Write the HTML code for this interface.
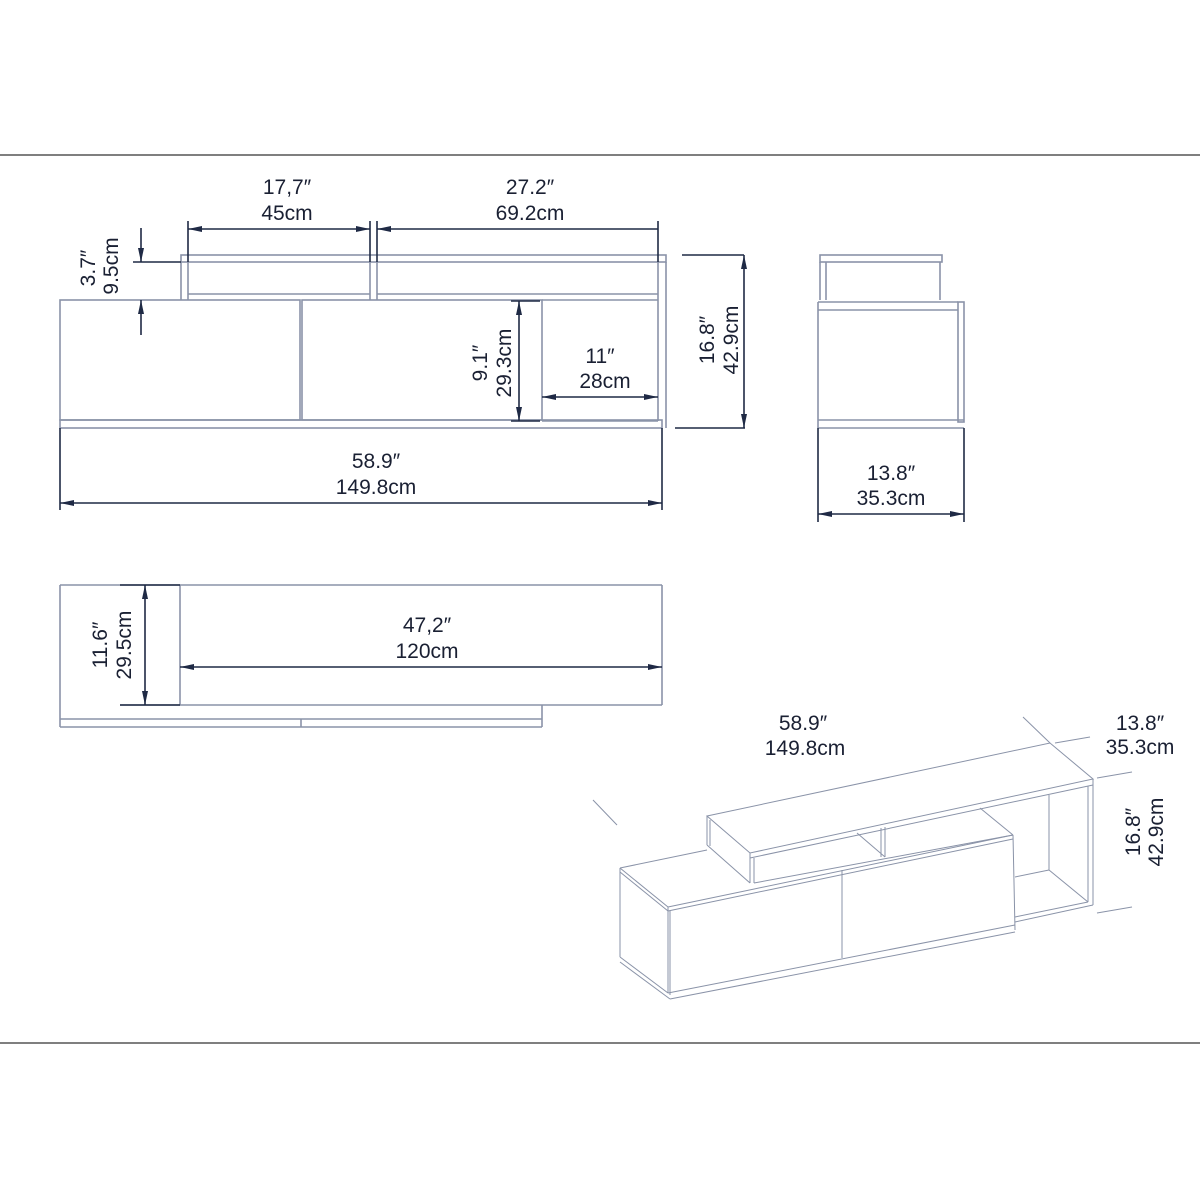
<!DOCTYPE html>
<html><head><meta charset="utf-8"><style>
html,body{margin:0;padding:0;background:#fff;}
svg{display:block;}
text{font-family:"Liberation Sans Narrow","Liberation Sans",sans-serif;font-size:21px;fill:#1a2033;text-anchor:middle;}
.o{stroke:#8a93a8;stroke-width:1.6;fill:none;}
.d{stroke:#1f2a45;stroke-width:1.6;fill:none;}
.a{fill:#1f2a45;stroke:none;}
.t{stroke:#8a93a8;stroke-width:1;fill:none;}
</style></head><body>
<svg width="1200" height="1200" viewBox="0 0 1200 1200" xmlns="http://www.w3.org/2000/svg">
<defs>
<marker id="ar" viewBox="0 0 14 6" refX="14" refY="3" markerWidth="14" markerHeight="6" markerUnits="userSpaceOnUse" orient="auto-start-reverse"><path d="M0,0 L14,3 L0,6 z" class="a"/></marker>
</defs>
<line x1="0" y1="155" x2="1200" y2="155" stroke="#333" stroke-width="1.3"/>
<line x1="0" y1="1043" x2="1200" y2="1043" stroke="#333" stroke-width="1.3"/>

<!-- FRONT VIEW -->
<rect class="o" x="181" y="255" width="485" height="7"/>
<line class="o" x1="181" y1="262" x2="181" y2="300"/>
<line class="o" x1="188" y1="262" x2="188" y2="300"/>
<line class="o" x1="370" y1="262" x2="370" y2="300"/>
<line class="o" x1="377" y1="262" x2="377" y2="300"/>
<line class="o" x1="188" y1="294" x2="370" y2="294"/>
<line class="o" x1="377" y1="294" x2="658" y2="294"/>
<line class="o" x1="658" y1="262" x2="658" y2="421"/>
<line class="o" x1="666" y1="262" x2="666" y2="428"/>
<rect class="o" x="60" y="300" width="240" height="120"/>
<rect class="o" x="302" y="300" width="240" height="120"/>
<line class="o" x1="542" y1="300" x2="658" y2="300"/>
<line class="o" x1="542" y1="421" x2="658" y2="421"/>
<rect class="o" x="60" y="420" width="602" height="8"/>
<line class="d" x1="60" y1="428" x2="60" y2="510"/>
<line class="d" x1="662" y1="428" x2="662" y2="510"/>
<!-- dims -->
<line class="d" x1="188" y1="221" x2="188" y2="262"/>
<line class="d" x1="370" y1="221" x2="370" y2="262"/>
<line class="d" x1="377" y1="221" x2="377" y2="262"/>
<line class="d" x1="658" y1="221" x2="658" y2="262"/>
<line class="d" x1="188" y1="229" x2="370" y2="229" marker-start="url(#ar)" marker-end="url(#ar)"/>
<line class="d" x1="377" y1="229" x2="658" y2="229" marker-start="url(#ar)"/>
<text x="287" y="194">17,7″</text><text x="287" y="220">45cm</text>
<text x="530" y="194">27.2″</text><text x="530" y="220">69.2cm</text>
<line class="d" x1="133" y1="262" x2="181" y2="262"/>
<line class="d" x1="141" y1="228" x2="141" y2="262" marker-end="url(#ar)"/>
<line class="d" x1="141" y1="335" x2="141" y2="300" marker-end="url(#ar)"/>
<text transform="translate(95,268) rotate(-90)">3.7″</text>
<text transform="translate(118,266) rotate(-90)">9.5cm</text>
<line class="d" x1="511" y1="301" x2="540" y2="301"/>
<line class="d" x1="511" y1="421" x2="540" y2="421"/>
<line class="d" x1="519" y1="301" x2="519" y2="421" marker-start="url(#ar)" marker-end="url(#ar)"/>
<text transform="translate(487,363) rotate(-90)">9.1″</text>
<text transform="translate(511,363) rotate(-90)">29.3cm</text>
<line class="d" x1="542" y1="397" x2="658" y2="397" marker-start="url(#ar)" marker-end="url(#ar)"/>
<text x="600" y="363">11″</text><text x="605" y="388">28cm</text>
<line class="d" x1="682" y1="255" x2="744" y2="255"/>
<line class="d" x1="675" y1="428" x2="745" y2="428"/>
<line class="d" x1="744" y1="255" x2="744" y2="428" marker-start="url(#ar)" marker-end="url(#ar)"/>
<text transform="translate(714,340) rotate(-90)">16.8″</text>
<text transform="translate(738,340) rotate(-90)">42.9cm</text>
<line class="d" x1="60" y1="503" x2="662" y2="503" marker-start="url(#ar)" marker-end="url(#ar)"/>
<text x="376" y="468">58.9″</text><text x="376" y="494">149.8cm</text>

<!-- SIDE VIEW -->
<rect class="o" x="820" y="255" width="122" height="7"/>
<line class="o" x1="820" y1="262" x2="820" y2="300"/>
<line class="o" x1="826" y1="262" x2="826" y2="300"/>
<line class="o" x1="940" y1="262" x2="940" y2="300"/>
<line class="o" x1="818" y1="302" x2="958" y2="302"/>
<line class="o" x1="818" y1="310" x2="958" y2="310"/>
<line class="o" x1="818" y1="302" x2="818" y2="428"/>
<rect class="o" x="958" y="302" width="6" height="120"/>
<line class="o" x1="818" y1="420" x2="964" y2="420"/>
<line class="o" x1="818" y1="428" x2="964" y2="428"/>
<line class="d" x1="818" y1="428" x2="818" y2="522"/>
<line class="d" x1="964" y1="428" x2="964" y2="522"/>
<line class="d" x1="818" y1="514" x2="964" y2="514" marker-start="url(#ar)" marker-end="url(#ar)"/>
<text x="891" y="480">13.8″</text><text x="891" y="505">35.3cm</text>

<!-- TOP VIEW -->
<line class="o" x1="60" y1="585" x2="662" y2="585"/>
<line class="o" x1="60" y1="585" x2="60" y2="727"/>
<line class="o" x1="662" y1="585" x2="662" y2="705"/>
<line class="o" x1="180" y1="585" x2="180" y2="705"/>
<line class="o" x1="120" y1="705" x2="662" y2="705"/>
<line class="o" x1="60" y1="719" x2="542" y2="719"/>
<line class="o" x1="60" y1="727" x2="542" y2="727"/>
<line class="o" x1="542" y1="705" x2="542" y2="727"/>
<line class="o" x1="301" y1="719" x2="301" y2="727"/>
<line class="d" x1="120" y1="585" x2="180" y2="585"/>
<line class="d" x1="120" y1="705" x2="180" y2="705"/>
<line class="d" x1="145" y1="585" x2="145" y2="705" marker-start="url(#ar)" marker-end="url(#ar)"/>
<text transform="translate(107,645) rotate(-90)">11.6″</text>
<text transform="translate(131,645) rotate(-90)">29.5cm</text>
<line class="d" x1="180" y1="667" x2="662" y2="667" marker-start="url(#ar)" marker-end="url(#ar)"/>
<text x="427" y="632">47,2″</text><text x="427" y="658">120cm</text>

<!-- ISO VIEW -->
<g class="t">
<!-- top board -->
<polygon points="707,816 1050,743 1093,779 750,853"/>
<line x1="750" y1="858" x2="1093" y2="785"/>
<line x1="707" y1="816" x2="707" y2="845"/>
<line x1="710" y1="820" x2="710" y2="846"/>
<line x1="750" y1="853" x2="750" y2="883"/>
<line x1="754" y1="858" x2="754" y2="883"/>
<line x1="707" y1="845" x2="750" y2="883"/>
<!-- right end -->
<line x1="1093" y1="779" x2="1093" y2="905"/>
<line x1="1088" y1="786" x2="1088" y2="902"/>
<line x1="1049" y1="795" x2="1049" y2="870"/>
<line x1="1015" y1="877" x2="1049" y2="870"/>
<line x1="1049" y1="870" x2="1088" y2="902"/>
<line x1="1015" y1="917" x2="1088" y2="902"/>
<line x1="1015" y1="922" x2="1093" y2="905"/>
<!-- middle divider -->
<line x1="885" y1="827" x2="885" y2="857"/>
<line x1="881" y1="828" x2="881" y2="857"/>
<line x1="857" y1="833" x2="885" y2="857"/>
<line x1="980" y1="808" x2="1013" y2="835"/>
<!-- lower body -->
<line x1="620" y1="868" x2="707" y2="850"/>
<line x1="620" y1="868" x2="668" y2="907"/>
<line x1="620" y1="872" x2="668" y2="911"/>
<line x1="754" y1="883" x2="1013" y2="835"/>
<line x1="668" y1="907" x2="1013" y2="835"/>
<line x1="668" y1="911" x2="1013" y2="839"/>
<line x1="620" y1="868" x2="620" y2="957"/>
<line x1="668" y1="907" x2="668" y2="993"/>
<line x1="670" y1="911" x2="670" y2="995"/>
<line x1="1013" y1="835" x2="1015" y2="930"/>
<line x1="620" y1="957" x2="668" y2="993"/>
<line x1="620" y1="962" x2="670" y2="999"/>
<line x1="842" y1="870" x2="842" y2="958"/>
<line x1="668" y1="993" x2="1015" y2="925"/>
<line x1="670" y1="999" x2="1015" y2="932"/>
<!-- dim extension lines -->
<line x1="1023" y1="717" x2="1050" y2="743"/>
<line x1="1055" y1="743" x2="1090" y2="737"/>
<line x1="1097" y1="778" x2="1132" y2="772"/>
<line x1="1097" y1="913" x2="1132" y2="907"/>
<line x1="593" y1="800" x2="617" y2="825"/>
</g>
<text x="803" y="730">58.9″</text><text x="805" y="755">149.8cm</text>
<text x="1140" y="730">13.8″</text><text x="1140" y="754">35.3cm</text>
<text transform="translate(1140,832) rotate(-90)">16.8″</text>
<text transform="translate(1163,832) rotate(-90)">42.9cm</text>
</svg>
</body></html>
